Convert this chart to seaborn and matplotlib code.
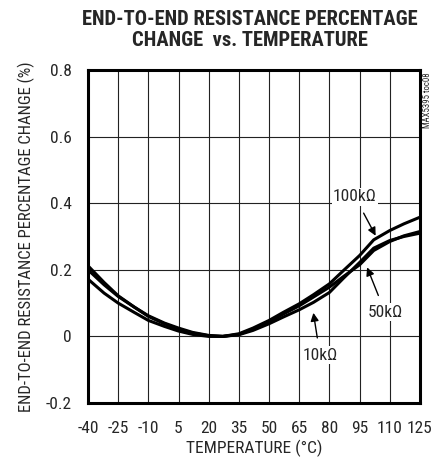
import matplotlib
matplotlib.use("Agg")
import matplotlib.pyplot as plt
import seaborn as sns
import pandas as pd
from matplotlib import font_manager

temps = [-40, -32, -25, -17, -10, -2, 5, 12, 20, 27, 35, 42, 50, 57, 65, 72, 80, 87, 95, 102, 110, 117, 125]
r100k = [0.200, 0.155, 0.120, 0.088, 0.062, 0.040, 0.025, 0.012, 0.003, 0.000, 0.008, 0.025, 0.048, 0.072, 0.098, 0.125, 0.158, 0.198, 0.243, 0.290, 0.318, 0.338, 0.358]
r50k = [0.212, 0.162, 0.122, 0.088, 0.060, 0.038, 0.022, 0.010, 0.002, 0.000, 0.006, 0.022, 0.044, 0.067, 0.092, 0.118, 0.148, 0.180, 0.215, 0.258, 0.285, 0.302, 0.315]
r10k = [0.172, 0.130, 0.100, 0.072, 0.048, 0.030, 0.016, 0.006, 0.000, 0.000, 0.005, 0.018, 0.038, 0.058, 0.080, 0.102, 0.132, 0.175, 0.222, 0.265, 0.288, 0.300, 0.310]
series_names = ["100kΩ", "50kΩ", "10kΩ"]
xticks = [-40, -25, -10, 5, 20, 35, 50, 65, 80, 95, 110, 125]
yticks = [-0.2, 0, 0.2, 0.4, 0.6, 0.8]
ytick_labels = ["-0.2", "0", "0.2", "0.4", "0.6", "0.8"]

sns.set_style("white")
names = {f.name for f in font_manager.fontManager.ttflist}
fam = "DejaVu Sans"
for cand in ["Roboto Condensed", "Archivo Narrow", "Liberation Sans Narrow", "IBM Plex Sans Condensed"]:
    if cand in names:
        fam = cand
        break
plt.rcParams['font.family'] = [fam, 'DejaVu Sans']

df = pd.concat([
    pd.DataFrame({"T": temps, "v": vals, "s": name})
    for name, vals in zip(series_names, [r100k, r50k, r10k])
])

fig = plt.figure(figsize=(4.46, 4.61), dpi=100)
ax = fig.add_axes([88/446, 1-403/461, 332/446, 333/461])
sns.lineplot(data=df, x="T", y="v", hue="s", palette=["black"]*3, linewidth=2.2,
             legend=False, ax=ax, zorder=3)

ax.set_xlim(-40, 125)
ax.set_ylim(-0.2, 0.8)
ax.set_xticks(xticks)
ax.set_xticklabels([str(t) for t in xticks], fontsize=12.5)
ax.set_yticks(yticks)
ax.set_yticklabels(ytick_labels, fontsize=12.5)
ax.grid(True, color="#222222", linewidth=0.8)
ax.tick_params(axis="x", length=0, pad=13)
ax.tick_params(axis="y", length=0, pad=11.5)
for sp in ax.spines.values():
    sp.set_linewidth(2.2)
    sp.set_color("black")
    sp.set_visible(True)

ax.set_xlabel("TEMPERATURE (°C)", fontsize=12.5, labelpad=3)
ax.set_ylabel("END-TO-END RESISTANCE PERCENTAGE CHANGE (%)", fontsize=12, labelpad=8)

fig.text(250/446, 1-30/461, "END-TO-END RESISTANCE PERCENTAGE\nCHANGE  vs. TEMPERATURE",
         ha="center", va="center", fontsize=14.8, fontweight="heavy", linespacing=1.1)

fig.text(428/446, 1-72/461, "MAX5395 toc08", rotation=90, ha="center", va="top", fontsize=6.3)

arrowprops = dict(arrowstyle="-|>", color="black", lw=1.0, mutation_scale=12)
ax.annotate("100kΩ", xy=(103.6, 0.295), xytext=(92.7, 0.419), fontsize=12.5, ha="center", va="center",
            arrowprops=dict(arrowprops, shrinkA=6), bbox=dict(fc="white", ec="none", pad=1), zorder=5)
ax.annotate("50kΩ", xy=(98.2, 0.215), xytext=(107.6, 0.073), fontsize=12.5, ha="center", va="center",
            arrowprops=dict(arrowprops, shrinkA=6), bbox=dict(fc="white", ec="none", pad=1), zorder=5)
ax.annotate("10kΩ", xy=(71.8, 0.079), xytext=(75.3, -0.056), fontsize=12.5, ha="center", va="center",
            arrowprops=dict(arrowprops, shrinkA=6), bbox=dict(fc="white", ec="none", pad=1), zorder=5)

fig.savefig("out.png", dpi=100)
